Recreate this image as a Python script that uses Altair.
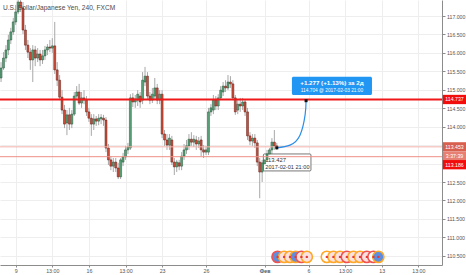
import altair as alt
import pandas as pd

# ---------------- data ----------------
candle_index = list(range(-6, 108))
open_ = [115.32, 115.59, 115.86, 116.08, 116.35, 116.57, 116.84, 117.11, 117.38, 117.22,
         116.62, 116.21, 116.02, 115.81, 116.08, 115.86, 115.97, 115.81, 115.92, 116.08,
         116.16, 116.13, 116.19, 115.54, 115.26, 114.80, 114.45, 114.10, 114.32, 114.07,
         114.34, 114.83, 114.94, 114.64, 114.78, 114.72, 114.40, 114.23, 114.07, 114.21,
         114.15, 114.21, 114.23, 114.18, 113.42, 113.10, 112.93, 113.04, 112.88, 112.64,
         113.04, 113.18, 113.37, 113.42, 114.78, 114.67, 114.72, 114.83, 114.72, 115.21,
         115.37, 114.83, 114.72, 114.83, 115.05, 114.72, 114.88, 113.80, 113.64, 113.50,
         113.64, 113.04, 112.91, 113.02, 112.93, 113.20, 113.37, 113.48, 113.66, 113.58,
         113.64, 113.53, 113.64, 113.37, 113.31, 113.31, 114.40, 114.45, 114.72, 114.56,
         114.78, 114.94, 115.10, 115.05, 115.21, 115.16, 114.78, 114.45, 114.61, 114.56,
         114.67, 114.40, 113.75, 113.61, 113.69, 113.56, 113.04, 112.77, 112.99, 113.10,
         113.26, 113.37, 113.58, 113.48]
high = [115.75, 116.02, 116.21, 116.49, 116.68, 116.95, 117.30, 117.57, 117.57, 117.38,
        116.76, 116.35, 116.13, 116.21, 116.19, 116.13, 116.08, 116.08, 116.19, 116.24,
        116.35, 116.40, 116.84, 115.75, 115.40, 114.99, 114.59, 114.45, 114.51, 114.45,
        114.94, 115.10, 115.16, 114.94, 114.99, 114.83, 114.51, 114.34, 114.34, 114.29,
        114.34, 114.34, 114.32, 114.26, 113.53, 113.20, 113.15, 113.15, 113.02, 113.15,
        113.29, 113.48, 113.56, 114.88, 114.91, 114.86, 114.99, 114.94, 115.48, 115.62,
        115.48, 114.94, 115.05, 115.32, 115.16, 114.99, 114.99, 113.91, 113.80, 113.80,
        113.75, 113.15, 113.10, 113.10, 113.31, 113.53, 113.64, 113.80, 113.85, 113.77,
        113.75, 113.72, 113.75, 113.50, 113.48, 114.51, 114.61, 114.86, 114.83, 114.88,
        115.10, 115.21, 115.26, 115.40, 115.37, 115.26, 114.86, 114.72, 114.78, 114.78,
        114.72, 114.51, 113.85, 113.80, 113.80, 113.64, 113.15, 113.10, 113.20, 113.37,
        113.42, 113.69, 113.91, 113.56]
low = [115.21, 115.54, 115.75, 115.94, 116.24, 116.49, 116.76, 117.05, 117.11, 116.51,
       116.08, 115.86, 115.54, 115.21, 115.64, 115.75, 115.64, 115.70, 115.81, 115.94,
       116.02, 116.00, 115.43, 115.10, 114.72, 114.34, 113.96, 113.77, 113.91, 113.96,
       114.29, 114.72, 114.59, 114.51, 114.61, 114.29, 114.13, 113.75, 113.91, 114.02,
       114.04, 114.07, 114.02, 113.31, 112.96, 112.82, 112.77, 112.77, 112.58, 112.58,
       112.93, 113.10, 113.26, 113.37, 114.53, 114.51, 114.56, 114.51, 114.61, 115.10,
       114.75, 114.61, 114.64, 114.72, 114.61, 114.61, 113.69, 113.48, 113.37, 113.37,
       112.96, 112.69, 112.77, 112.82, 112.82, 113.10, 113.26, 113.37, 113.48, 113.45,
       113.37, 113.42, 113.20, 113.15, 113.23, 113.23, 114.29, 114.34, 114.45, 114.45,
       114.72, 114.83, 114.94, 114.99, 115.05, 114.72, 114.32, 114.34, 114.40, 114.45,
       114.29, 113.64, 113.50, 113.48, 113.42, 112.93, 112.06, 112.50, 112.82, 112.93,
       113.10, 113.26, 113.37, 113.37]
close = [115.59, 115.86, 116.08, 116.35, 116.57, 116.84, 117.11, 117.38, 117.22, 116.62,
         116.21, 116.02, 115.81, 116.08, 115.86, 115.97, 115.81, 115.92, 116.08, 116.16,
         116.13, 116.19, 115.54, 115.26, 114.80, 114.45, 114.07, 114.32, 114.07, 114.34,
         114.83, 114.94, 114.64, 114.78, 114.72, 114.40, 114.23, 114.07, 114.21, 114.15,
         114.23, 114.25, 114.18, 113.42, 113.10, 112.93, 113.04, 112.88, 112.64, 113.10,
         113.18, 113.37, 113.45, 114.78, 114.67, 114.75, 114.88, 114.67, 115.26, 115.37,
         114.83, 114.72, 114.88, 115.05, 114.72, 114.88, 113.80, 113.64, 113.50, 113.69,
         113.04, 112.91, 113.04, 112.93, 113.20, 113.37, 113.48, 113.66, 113.58, 113.66,
         113.53, 113.61, 113.37, 113.31, 113.37, 114.40, 114.51, 114.72, 114.56, 114.78,
         114.99, 115.10, 115.05, 115.21, 115.16, 114.78, 114.40, 114.61, 114.56, 114.67,
         114.40, 113.75, 113.61, 113.69, 113.56, 113.04, 112.77, 113.02, 113.10, 113.26,
         113.37, 113.58, 113.48, 113.43]

tick_index = [0, 15, 30, 45, 60, 78, 102, 120, 135, 150, 165]
tick_labels = ["9", "13:00", "16", "13:00", "23", "26", "Фев", "6", "13:00", "13", "13:00"]
price_ticks = [110.5, 111.0, 111.5, 112.0, 112.5, 113.0, 113.5, 114.0, 114.5,
               115.0, 115.5, 116.0, 116.5, 117.0]
hidden_price_ticks = [113.0, 113.5]   # covered by the price tags in the reference

resistance_level = 114.737
zone_level = 113.453
last_price = 113.186
countdown = "3:37:39"

start_point = {"i": 107, "p": 113.427, "when": "2017-02-01 21:00"}
target_point = {"i": 119, "p": 114.704, "when": "2017-02-03 21:00"}
arrow_i = [107, 112.4, 116.5, 118.6, 119]
arrow_p = [113.427, 113.50, 113.77, 114.32, 114.704]

event_index = [107.3, 110.0, 112.4, 114.7, 117.1, 119.3, 127.5, 130.2, 132.9,
               135.7, 138.4, 141.1, 143.9, 146.6, 148.6]
event_ring = ["#ef5350", "#ffa726", "#ffa726", "#ffa726", "#ef5350", "#ffa726",
              "#ffa726", "#ffa726", "#ffa726", "#ef5350", "#ffa726", "#ffa726",
              "#ef5350", "#ef5350", "#ffa726"]
event_fill = ["#5b8ee0", "#fbe0e0", "#fbe0e0", "#5b8ee0", "#fbe0e0", "#fbe0e0",
              "#ffffff", "#fbe0e0", "#fbe0e0", "#fbe0e0", "#fbe0e0", "#fbe0e0",
              "#fbe0e0", "#ffffff", "#5b8ee0"]

# ---------------- chart ----------------
FONT = "Liberation Sans"
UP_FILL, UP_STROKE = "#5aa27a", "#225437"
DN_FILL, DN_STROKE = "#d24d3a", "#5b1a13"

df = pd.DataFrame({"i": candle_index, "o": open_, "h": high, "l": low, "c": close})

xs = alt.Scale(domain=[-6.43, 174.7], nice=False, zero=False)
ys = alt.Scale(domain=[110.25, 117.434], nice=False, zero=False)

label_expr = ""
for v, t in zip(tick_index, tick_labels):
    label_expr += f"datum.value == {v} ? '{t}' : "
label_expr += "''"

y_label_expr = " || ".join(f"datum.value == {v}" for v in hidden_price_ticks)
y_label_expr = f"({y_label_expr}) ? '' : format(datum.value, '.3f')"

XAXIS = alt.Axis(values=tick_index, labelExpr=label_expr, grid=True, gridColor="#eeeeee",
                 domainColor="#8c8c8c", tickColor="#8c8c8c", tickSize=2, labelFontSize=5.3,
                 labelColor="#555555", labelPadding=1.5, title=None, labelFont=FONT,
                 labelOverlap=False, labelFlush=False,
                 labelFontWeight={"condition": {"test": "datum.value == 102", "value": "bold"},
                                  "value": "normal"})
YAXIS = alt.Axis(orient="right", values=price_ticks, labelExpr=y_label_expr, grid=True,
                 gridColor="#eeeeee", domainColor="#8c8c8c", tickColor="#8c8c8c", tickSize=3,
                 labelFontSize=5.2, labelColor="#555555", labelPadding=1.5, title=None,
                 labelFont=FONT, labelOverlap=False, labelFlush=False)


def X(field):
    return alt.X(field, scale=xs, axis=XAXIS)


def Y(field):
    return alt.Y(field, scale=ys, axis=YAXIS)


base = alt.Chart(df).transform_calculate(
    x1="datum.i - 0.4", x2="datum.i + 0.4",
    top="max(datum.o, datum.c)", bot="min(datum.o, datum.c)")

wick = base.mark_rule(color="#a8a8a8", strokeWidth=1, clip=True).encode(
    x=X("i:Q"), y=Y("l:Q"), y2="h:Q")


def bodies(filt, fill, stroke):
    return base.transform_filter(filt).mark_bar(
        clip=True, fill=fill, stroke=stroke, strokeWidth=0.5).encode(
        x=X("x1:Q"), x2="x2:Q", y=Y("top:Q"), y2="bot:Q")


up_bodies = bodies("datum.c >= datum.o", UP_FILL, UP_STROKE)
dn_bodies = bodies("datum.c < datum.o", DN_FILL, DN_STROKE)

# annotation box for the start point
start_df = pd.DataFrame([{
    "x1": 101.5, "x2": 121.0, "y1": 113.26, "y2": 112.80,
    "tx": 102.3, "ty1": 113.10, "ty2": 112.91,
    "t1": f"{start_point['p']:.3f}", "t2": start_point["when"]}])
start_box = alt.Chart(start_df).mark_rect(fill="white", stroke="#555555", strokeWidth=0.8,
                                          cornerRadius=1).encode(
    x=X("x1:Q"), x2="x2:Q", y=Y("y1:Q"), y2="y2:Q")
start_t1 = alt.Chart(start_df).mark_text(align="left", baseline="middle", fontSize=5.8,
                                         font=FONT, color="#333333").encode(
    x=X("tx:Q"), y=Y("ty1:Q"), text="t1:N")
start_t2 = alt.Chart(start_df).mark_text(align="left", baseline="middle", fontSize=5.6,
                                         font=FONT, color="#333333").encode(
    x=X("tx:Q"), y=Y("ty2:Q"), text="t2:N")


# horizontal levels
def level_rule(value, color, width, opacity=1.0):
    return alt.Chart(pd.DataFrame({"v": [value]})).mark_rule(
        color=color, strokeWidth=width, opacity=opacity).encode(y=Y("v:Q"))


res_rule = level_rule(resistance_level, "#f01818", 1.8)
zone_rule = level_rule(zone_level, "#f3b1a9", 1)
last_rule = level_rule(last_price, "#ee8f86", 1)

# projection arrow
arrow_df = pd.DataFrame({"i": arrow_i, "p": arrow_p, "k": list(range(len(arrow_i)))})
arrow = alt.Chart(arrow_df).mark_line(color="#2a8ee8", strokeWidth=1.2,
                                      interpolate="natural").encode(
    x=X("i:Q"), y=Y("p:Q"), order="k:Q")

ends_df = pd.DataFrame({"i": [start_point["i"], target_point["i"]],
                        "p": [start_point["p"], target_point["p"]]})
ends = alt.Chart(ends_df).mark_point(shape="square", filled=True, color="#111111",
                                     size=9, opacity=1).encode(x=X("i:Q"), y=Y("p:Q"))

change = target_point["p"] - start_point["p"]
pct = change / start_point["p"] * 100
blue_df = pd.DataFrame([{
    "x1": 113.2, "x2": 146.0, "y1": 115.355, "y2": 114.859,
    "tx": 129.6, "ty1": 115.18, "ty2": 114.975,
    "t1": f"+{change:.3f} (+{pct:.2f}%) за 2д",
    "t2": f"{target_point['p']:.3f} @ {target_point['when']}"}])
blue_box = alt.Chart(blue_df).mark_rect(fill="#2196f3", cornerRadius=1.5).encode(
    x=X("x1:Q"), x2="x2:Q", y=Y("y1:Q"), y2="y2:Q")
blue_t1 = alt.Chart(blue_df).mark_text(align="center", baseline="middle", fontSize=6.2,
                                       fontWeight="bold", font=FONT, color="white").encode(
    x=X("tx:Q"), y=Y("ty1:Q"), text="t1:N")
blue_t2 = alt.Chart(blue_df).mark_text(align="center", baseline="middle", fontSize=4.8,
                                       font=FONT, color="white").encode(
    x=X("tx:Q"), y=Y("ty2:Q"), text="t2:N")

# price labels on the right axis
BOX = "M-1,-0.4 L1,-0.4 L1,0.4 L-1,0.4 Z"


def axis_tag(value, text, bg, y_off=0):
    d = pd.DataFrame({"v": [value], "t": [text]})
    box = alt.Chart(d).mark_point(shape=BOX, filled=True, fill=bg, opacity=1,
                                  strokeWidth=0, size=540).encode(
        x=alt.value(454.5), y=Y("v:Q"), yOffset=alt.value(y_off))
    txt = alt.Chart(d).mark_text(align="center", baseline="middle", fontSize=5.2,
                                 font=FONT, color="white").encode(
        x=alt.value(454.5), y=Y("v:Q"), yOffset=alt.value(y_off), text="t:N")
    return [box, txt]


tags = (axis_tag(resistance_level, f"{resistance_level:.3f}", "#f20d0d")
        + axis_tag(zone_level, f"{zone_level:.3f}", "#d8604f")
        + axis_tag(last_price, countdown, "#e77f73", -0.5)
        + axis_tag(last_price, f"{last_price:.3f}", "#f20d0d", 8))

# economic-event markers
ev_df = pd.DataFrame({"i": event_index, "ring": event_ring, "fill": event_fill,
                      "p": [110.47] * len(event_index)})
events = alt.Chart(ev_df).mark_point(shape="circle", filled=True, size=125, strokeWidth=1.6,
                                     opacity=1).encode(
    x=X("i:Q"), y=Y("p:Q"),
    fill=alt.Fill("fill:N", scale=None), stroke=alt.Stroke("ring:N", scale=None))
event_dots = alt.Chart(ev_df).mark_point(shape="circle", filled=True, size=6, color="#e53935",
                                         opacity=1).encode(x=X("i:Q"), y=Y("p:Q"))

title = alt.Chart(pd.DataFrame({"t": ["U.S. Dollar/Japanese Yen, 240, FXCM"]})).mark_text(
    align="left", baseline="middle", fontSize=6.6, font=FONT, color="#4a4a4a").encode(
    x=alt.value(3), y=alt.value(7.5), text="t:N")

chart = alt.layer(
    wick, start_box, start_t1, start_t2, up_bodies, dn_bodies,
    zone_rule, last_rule, res_rule, arrow, ends, blue_box, blue_t1, blue_t2,
    events, event_dots, *tags, title
).properties(
    width=442, height=265,
    padding={"left": 0, "top": 0, "right": 24, "bottom": 10},
    autosize=alt.AutoSizeParams(type="none"),
    background="white",
).configure_view(stroke=None)

chart.save("out.html", embed_options={"renderer": "svg", "actions": False})
